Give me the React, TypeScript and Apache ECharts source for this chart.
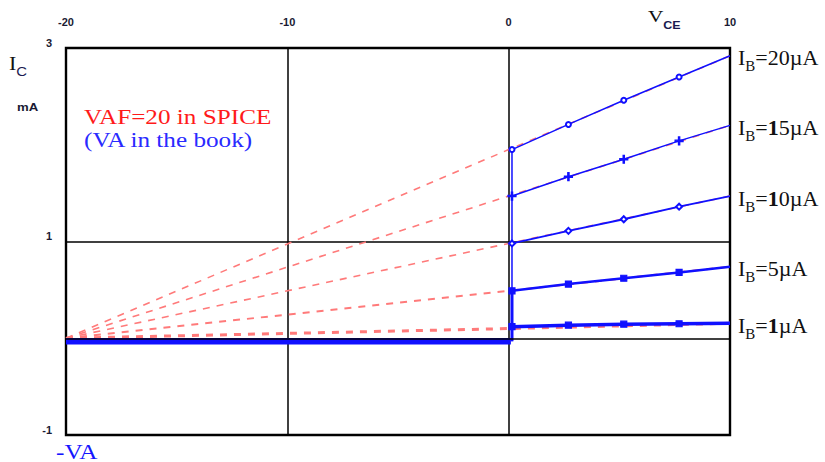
import React, { useEffect, useRef } from "react";
import * as echarts from "echarts";

// Voltage positions (V) of the sampled points after the knee
const vKnee = 0.15;
const vPts = [2.7, 5.2, 7.7, 10];

// Collector current (mA) on each IB curve: knee, then at vPts
const ib20 = [1.95, 2.21, 2.46, 2.7, 2.92];
const ib15 = [1.47, 1.67, 1.85, 2.04, 2.2];
const ib10 = [0.98, 1.11, 1.23, 1.36, 1.47];
const ib5 = [0.49, 0.56, 0.62, 0.68, 0.74];
const ib1 = [0.12, 0.135, 0.145, 0.15, 0.155];

// Early-voltage extrapolation lines (red dashed): value at -20, 0, 10
const earlyV = [-20, 0, 10];
const red20 = [0, 1.95, 2.92];
const red15 = [0, 1.47, 2.2];
const red10 = [0, 0.98, 1.47];
const red5 = [0, 0.49, 0.74];
const red1 = [0, 0.1, 0.155];

// Cut-off (negative VCE) current
const negV = [-20, 0.1];
const negI = [-0.03, -0.03];

const labels = [
  "{i|I}{s|B}{t|=20µA}",
  "{i|I}{s|B}{t|=}{b|1}{t|5µA}",
  "{i|I}{s|B}{t|=}{b|1}{t|0µA}",
  "{i|I}{s|B}{t|=5µA}",
  "{i|I}{s|B}{t|=}{b|1}{t|µA}",
];

const BLUE = "#1010ff";
const RED = "#ff7a7a";
const SERIF = "Liberation Serif";
const SANS = "Liberation Sans";

export default function App() {
  const ref = useRef<HTMLDivElement>(null);
  useEffect(() => {
    if (!ref.current) return;
    const chart = echarts.init(ref.current, undefined, { renderer: "svg" });

    const curves = [ib20, ib15, ib10, ib5, ib1];
    const reds = [red20, red15, red10, red5, red1];
    const redWidths = [1.6, 1.6, 1.6, 2, 3];
    const widths = [1.5, 1.5, 1.8, 2.5, 3.5];
    const symbols = ["emptyCircle", "path://M4,0h1.6v4h4v1.6h-4v4h-1.6v-4h-4v-1.6h4z", "emptyDiamond", "rect", "rect"];
    const symSizes = [5, 8, 6, 6, 6];

    const richLabel = {
      i: { fontFamily: SERIF, fontSize: 22, color: "#111", lineHeight: 26, verticalAlign: "bottom" },
      s: { fontFamily: SERIF, fontSize: 15, color: "#111", lineHeight: 15, verticalAlign: "bottom", padding: [0, 0, -5, 0] },
      t: { fontFamily: SERIF, fontSize: 22, color: "#111", lineHeight: 26, verticalAlign: "bottom" },
      b: { fontFamily: SERIF, fontSize: 22, fontWeight: "bold", color: "#111", lineHeight: 26, verticalAlign: "bottom" },
    };

    const series: any[] = [];
    reds.forEach((r, idx) => {
      series.push({
        type: "line",
        data: earlyV.map((v, k) => [v, r[k]]),
        symbol: "none",
        lineStyle: { color: RED, width: redWidths[idx], type: [7, 7] },
        z: 1,
      });
    });
    series.push({
      type: "line",
      data: negV.map((v, k) => [v, negI[k]]),
      symbol: "none",
      lineStyle: { color: BLUE, width: 6.5 },
      z: 3,
      markLine: {
        silent: true,
        symbol: "none",
        label: { show: false },
        lineStyle: { color: "#000", width: 1.5, type: "solid" },
        data: [{ yAxis: 0 }],
      },
    });
    series.push({
      type: "line",
      data: [[vKnee, negI[1]], [vKnee, ib20[0]]],
      symbol: "none",
      lineStyle: { color: BLUE, width: 1.5 },
      z: 3,
    });
    series.push({
      type: "line",
      data: [[vKnee, negI[1]], [vKnee, ib5[0]]],
      symbol: "none",
      lineStyle: { color: BLUE, width: 3 },
      z: 3,
    });
    curves.forEach((c, idx) => {
      const xs = [vKnee, ...vPts];
      series.push({
        type: "line",
        data: xs.map((v, k) =>
          k === xs.length - 1 ? { value: [v, c[k]], symbol: "none" } : { value: [v, c[k]] }
        ),
        symbol: symbols[idx],
        symbolSize: symSizes[idx],
        showAllSymbol: true,
        itemStyle: { color: BLUE, borderColor: BLUE, borderWidth: 1.2 },
        lineStyle: { color: BLUE, width: widths[idx] },
        z: 4,
        endLabel: {
          show: true,
          distance: 8,
          formatter: labels[idx],
          rich: richLabel,
        },
      });
    });

    const plain = (text: string, x: number, y: number, family: string, size: number, fill: string, sx: number, weight = "normal") => ({
      type: "text",
      x,
      y,
      scaleX: sx,
      style: {
        text: "{a|" + text + "}",
        rich: { a: { fontFamily: family, fontSize: size, fontWeight: weight, fill, lineHeight: size } },
      },
    });

    chart.setOption({
      animation: false,
      backgroundColor: "#fff",
      grid: {
        left: 66,
        right: 95,
        top: 48,
        bottom: 27,
        show: true,
        borderColor: "#000",
        borderWidth: 2.4,
        backgroundColor: "transparent",
      },
      xAxis: {
        type: "value",
        position: "top",
        min: -20,
        max: 10,
        interval: 10,
        axisLine: { show: false },
        axisTick: { show: false },
        splitLine: { show: true, lineStyle: { color: "#000", width: 1.5 } },
        axisLabel: { margin: 21, fontFamily: SANS, fontSize: 11, fontWeight: "bold", color: "#1a1a33" },
      },
      yAxis: {
        type: "value",
        min: -1,
        max: 3,
        interval: 2,
        axisLine: { show: false },
        axisTick: { show: false },
        splitLine: { show: true, lineStyle: { color: "#000", width: 1.5 } },
        axisLabel: {
          margin: 14,
          fontFamily: SANS,
          fontSize: 11,
          fontWeight: "bold",
          color: "#1a1a33",
          verticalAlign: "bottom",
        },
      },
      graphic: [
        {
          type: "text",
          x: 9,
          y: 51,
          scaleX: 1.15,
          style: {
            text: "{i|I}{s|C}",
            rich: {
              i: { fontFamily: SERIF, fontSize: 19, fill: "#111", lineHeight: 22, verticalAlign: "bottom" },
              s: { fontFamily: SANS, fontSize: 13, fill: "#1a1a50", lineHeight: 13, verticalAlign: "bottom", padding: [0, 0, -5, 0] },
            },
          },
        },
        plain("mA", 17, 102, SANS, 11, "#1a1a33", 1.2, "bold"),
        {
          type: "text",
          x: 648,
          y: 5,
          scaleX: 1.25,
          style: {
            text: "{v|V}{s|CE}",
            rich: {
              v: { fontFamily: SERIF, fontSize: 17, fill: "#111", lineHeight: 20, verticalAlign: "bottom" },
              s: { fontFamily: SANS, fontSize: 10, fontWeight: "bold", fill: "#1a1a50", lineHeight: 10, verticalAlign: "bottom", padding: [0, 0, -5, 0] },
            },
          },
        },
        plain("VAF=20 in SPICE", 84, 106, SERIF, 21, "#ff1a1a", 1.2),
        plain("(VA in the book)", 84, 129, SERIF, 21, "#2a2aff", 1.2),
        plain("-VA", 56, 441, SERIF, 21, "#1515ff", 1.2),
      ],
      series,
    });
    return () => chart.dispose();
  }, []);
  return (
    <div
      ref={ref}
      style={{ position: "fixed", left: 0, top: 0, width: 825, height: 462, background: "#fff" }}
    />
  );
}
